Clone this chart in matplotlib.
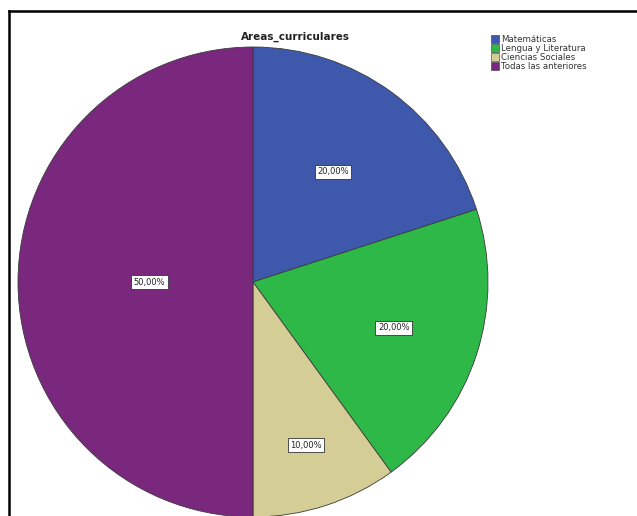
import matplotlib
matplotlib.use("Agg")
import matplotlib.pyplot as plt
import numpy as np
from matplotlib.lines import Line2D
from matplotlib.patches import Patch

categories = ["Matemáticas", "Lengua y Literatura", "Ciencias Sociales", "Todas las anteriores"]
values = [20.0, 20.0, 10.0, 50.0]
colors = ["#3E58AC", "#2EB848", "#D4CE96", "#7A287E"]
label_dist = [0.58, 0.63, 0.73, 0.44]
title = "Areas_curriculares"

W, H = 637, 516
fig = plt.figure(figsize=(W / 100, H / 100), dpi=100)
ax = fig.add_axes([0, 0, 1, 1])

cx, cy, R = 253, H - 282, 235
wedges, _ = ax.pie(values, colors=colors, startangle=90, counterclock=False,
                   center=(cx, cy), radius=R, frame=True,
                   wedgeprops=dict(edgecolor="#3a3a3a", linewidth=0.6))
ax.set_xlim(0, W)
ax.set_ylim(0, H)
ax.set_aspect("equal")
ax.axis("off")

total = sum(values)
start = 90.0
for v, d in zip(values, label_dist):
    mid = start - 360 * v / total / 2
    start -= 360 * v / total
    x = cx + R * d * np.cos(np.radians(mid))
    y = cy + R * d * np.sin(np.radians(mid))
    ax.text(x, y, f"{v:.2f}%".replace(".", ","), ha="center", va="center",
            fontsize=6, color="#222222",
            bbox=dict(boxstyle="square,pad=0.3", facecolor="white",
                      edgecolor="#333333", linewidth=0.6))

fig.text(295 / W, 1 - 37 / H, title, ha="center", va="center",
         fontsize=7.5, fontweight="bold", color="#222222")

handles = [Patch(facecolor=c, edgecolor="#333333", linewidth=0.4) for c in colors]
fig.legend(handles, categories, loc="upper left", bbox_to_anchor=(485 / W, 1 - 29 / H),
           frameon=False, fontsize=6.2, handlelength=0.9, handleheight=0.9,
           handletextpad=0.3, labelspacing=0.0, borderpad=0.2, labelcolor="#333333")

fig.add_artist(Line2D([8.5 / W, 1], [1 - 10.5 / H, 1 - 10.5 / H], color="black", lw=1.8,
                      transform=fig.transFigure))
fig.add_artist(Line2D([8.5 / W, 8.5 / W], [1 - 10.5 / H, 0], color="black", lw=1.8,
                      transform=fig.transFigure))

fig.savefig("out.png", dpi=100, facecolor="white")
